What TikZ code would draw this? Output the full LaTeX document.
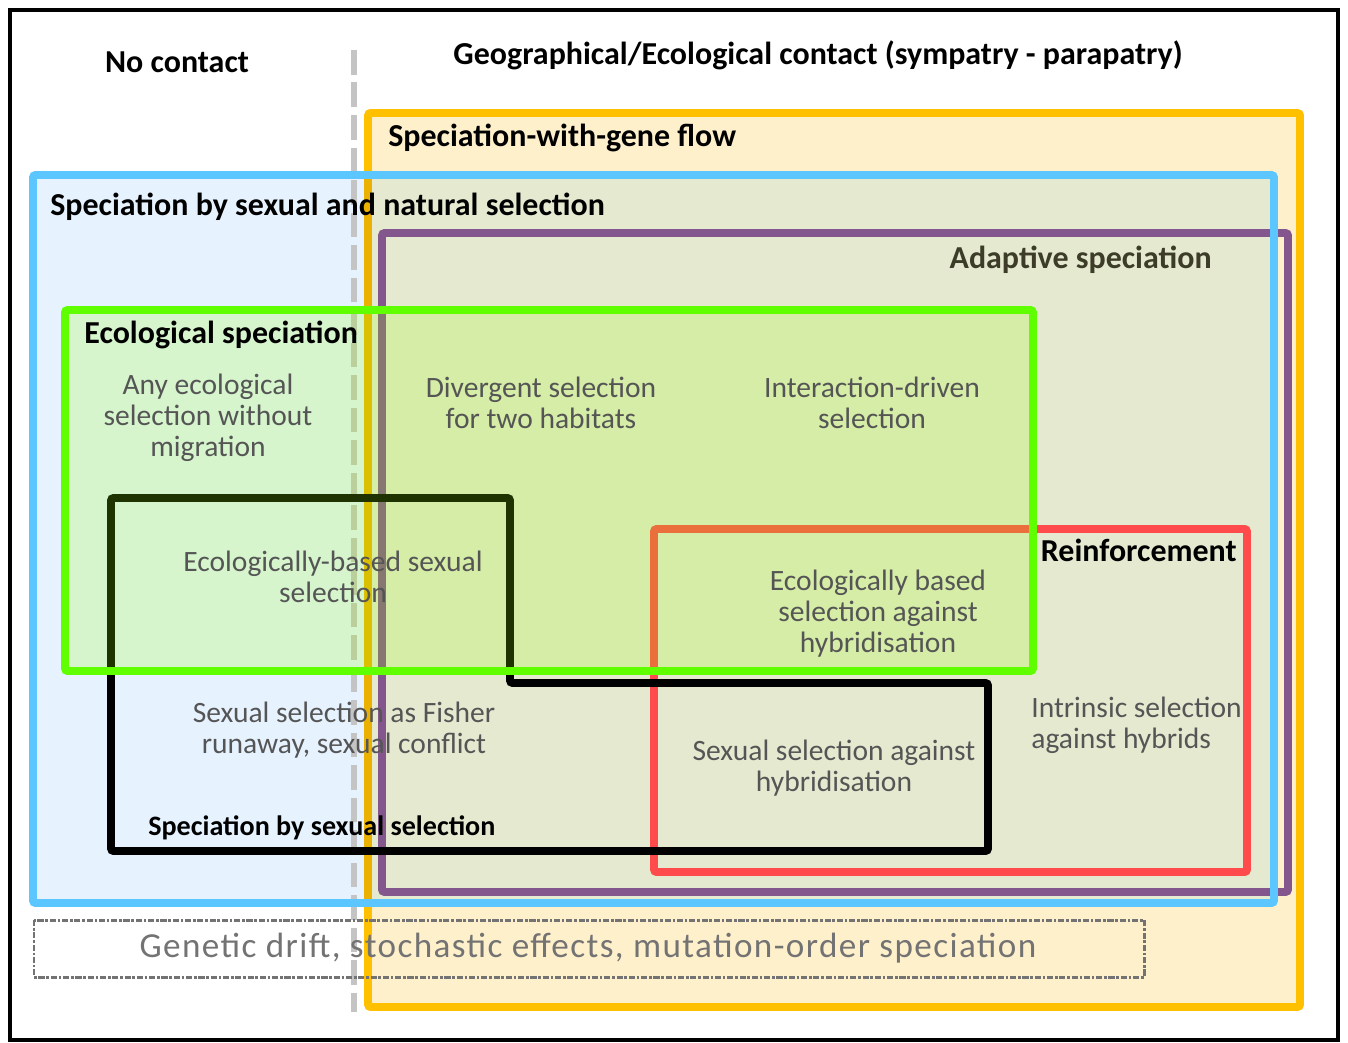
\documentclass[tikz,border=0pt]{standalone}
\usepackage{fontspec}
\setmainfont{Carlito}
\definecolor{gold}{HTML}{FFC000}
\definecolor{cream}{HTML}{FFF0CC}
\definecolor{skyblue}{HTML}{5BC6FF}
\definecolor{paleblue}{HTML}{E6F3FF}
\definecolor{sandtan}{HTML}{E5E9D0}
\definecolor{plum}{HTML}{84568E}
\definecolor{reinred}{HTML}{FF4B4B}
\definecolor{ecogreen}{HTML}{60FF00}
\definecolor{washgreen}{RGB}{150,255,0}
\definecolor{txtgray}{HTML}{555555}
\definecolor{dashgray}{HTML}{C4C4C4}
\definecolor{olivedark}{HTML}{3C3C28}
\tikzset{
	frame/.style={line width=4.5pt, rounded corners=1.5pt},
	head/.style={font=\bfseries\fontsize{18.2}{21}\selectfont, text=black, inner sep=0pt},
	body/.style={font=\fontsize{16.8}{17.6}\selectfont, text=txtgray, align=center, inner sep=0pt},
}
\begin{document}
\begin{tikzpicture}[x=0.02cm,y=-0.02cm]
			\useasboundingbox (0,0) rectangle (1348,1043);
			\fill[white] (0,0) rectangle (1348,1043);
			\draw[line width=2.8pt] (10,10) rectangle (1338,1040);

			% nested regions
			\draw[frame, gold, fill=cream] (368,113) rectangle (1300,1007);
			\fill[paleblue] (33,175) rectangle (1274,903);
			\fill[sandtan] (368,175) rectangle (1274,903);
			\draw[line width=4.5pt, gold!92!black] (368,175) -- (368,903);
			\draw[dashgray, line width=3.4pt, dash pattern=on 14pt off 4.5pt] (354,50) -- (354,1012);
			\draw[frame, plum] (382,233) rectangle (1288,892);
			\draw[frame, skyblue] (33,175) rectangle (1274,903);
			\draw[frame, reinred] (654,529) rectangle (1247,872);
			\draw[frame, black] (111,498) -- (510,498) -- (510,683) -- (988,683) -- (988,851) -- (111,851) -- cycle;
			\draw[frame, ecogreen, fill=washgreen, fill opacity=0.2] (65,310) rectangle (1033,671);
			\draw[line width=1.7pt, gray!90!black, dash pattern=on 3.5pt off 1pt on 1.5pt off 1pt] (34,920) rectangle (1144,977);

			% headings
			\node[head] (nocontact) at (177,62) {No contact};
			\node[head] (contact) at (818,55) {Geographical/Ecological contact (sympatry - parapatry)};
			\node[head, anchor=west] (geneflow) at (388,138) {Speciation-with-gene flow};
			\node[head, anchor=west] (sexnat) at (50,207) {Speciation by sexual and natural selection};
			\node[head, anchor=east, text=olivedark] (adaptive) at (1212,260) {Adaptive speciation};
			\node[head, anchor=west] (ecolspec) at (84,335) {Ecological speciation};
			\node[head, anchor=east] (reinf) at (1237,550) {Reinforcement};
			\node[head, anchor=west, font=\bfseries\fontsize{16}{19}\selectfont] (sexsel) at (148,828) {Speciation by sexual selection};

			% mechanisms
			\node[body] (anyeco) at (208,418) {Any ecological\\selection without\\migration};
			\node[body] (divergent) at (541,403) {Divergent selection\\for two habitats};
			\node[body] (interaction) at (872,403) {Interaction-driven\\selection};
			\node[body] (ecosexual) at (333,577) {Ecologically-based sexual\\selection};
			\node[body] (ecoagainst) at (878,614) {Ecologically based\\selection against\\hybridisation};
			\node[body] (fisher) at (344,730) {Sexual selection as Fisher\\runaway, sexual conflict};
			\node[body] (sexagainst) at (834,768) {Sexual selection against\\hybridisation};
			\node[body, align=left, anchor=west] (intrinsic) at (1031,725) {Intrinsic selection\\against hybrids};
			\node[body, font=\fontsize{20}{22}\selectfont\addfontfeatures{LetterSpace=4}, text=gray!90!black] (drift) at (588,948) {Genetic drift, stochastic effects, mutation-order speciation};
\end{tikzpicture}
\end{document}
